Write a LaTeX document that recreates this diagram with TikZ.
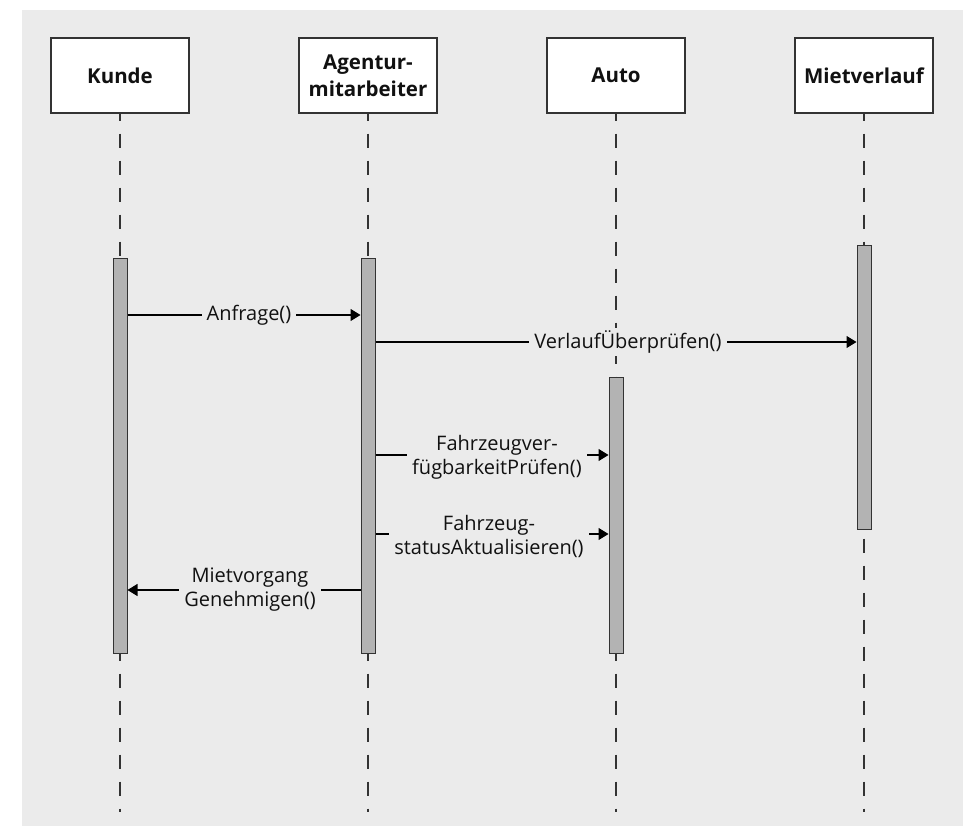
\documentclass[tikz,border=0pt]{standalone}
\usepackage{fontspec}
\setmainfont{Open Sans}
\usetikzlibrary{arrows.meta}
\definecolor{panel}{HTML}{EBEBEB}
\definecolor{barfill}{HTML}{B3B3B3}
\definecolor{ink}{HTML}{111111}
\definecolor{frame}{HTML}{333333}
\tikzset{
  actor/.style={draw=frame, line width=1.4pt, fill=white, minimum width=138pt,
    minimum height=75pt, inner sep=0pt, align=center, text=ink,
    font=\bfseries\fontsize{20.5}{27}\selectfont},
  lifeline/.style={draw=frame, line width=1.1pt, dash pattern=on 14pt off 13pt, dash phase=7pt},
  activation/.style={draw=frame, line width=1pt, fill=barfill, minimum width=14pt,
    inner sep=0pt},
  msg/.style={draw=black, line width=1.1pt, -{Triangle[length=10pt,width=12pt]}},
  msglabel/.style={fill=panel, text=ink, align=center, inner xsep=5pt, inner ysep=3pt,
    font=\fontsize{20}{24}\selectfont}
}
\begin{document}
\begin{tikzpicture}[x=1pt,y=-1pt]
\useasboundingbox (0,0) rectangle (963,826);
\fill[panel] (22,10) rectangle (963,826);

% participants
\node[actor] (kunde) at (120,75.5) {Kunde};
\node[actor] (agent) at (368,75.5) {Agentur-\\mitarbeiter};
\node[actor] (auto)  at (616,75.5) {Auto};
\node[actor] (miet)  at (864,75.5) {Mietverlauf};

% lifeline ends
\coordinate (kend) at (120,812);
\coordinate (aend) at (368,812);
\coordinate (uend) at (616,812);
\coordinate (mend) at (864,812);

\draw[lifeline] (kunde.south) -- (kend);
\draw[lifeline] (agent.south) -- (aend);
\draw[lifeline] (auto.south)  -- (uend);
\draw[lifeline] (miet.south)  -- (mend);

% activation bars
\node[activation, minimum height=394pt] (kbar) at (120,456) {};
\node[activation, minimum height=394pt] (abar) at (368,456) {};
\node[activation, minimum height=276pt] (ubar) at (616,515) {};
\node[activation, minimum height=283pt] (mbar) at (864,387.5) {};

% messages
\draw[msg] (kbar.east |- 0,315) -- (abar.west |- 0,315);
\node[msglabel] (l1) at (249,315) {Anfrage()};

\draw[msg] (abar.east |- 0,342) -- (mbar.west |- 0,342);
\node[msglabel] (l2) at (628,342) {VerlaufÜberprüfen()};

\draw[msg] (abar.east |- 0,455) -- (ubar.west |- 0,455);
\node[msglabel] (l3) at (497,457) {Fahrzeugver-\\fügbarkeitPrüfen()};

\draw[msg] (abar.east |- 0,534) -- (ubar.west |- 0,534);
\node[msglabel] (l4) at (489,536) {Fahrzeug-\\statusAktualisieren()};

\draw[msg] (abar.west |- 0,590) -- (kbar.east |- 0,590);
\node[msglabel] (l5) at (250,590) {Mietvorgang\\Genehmigen()};
\end{tikzpicture}
\end{document}
